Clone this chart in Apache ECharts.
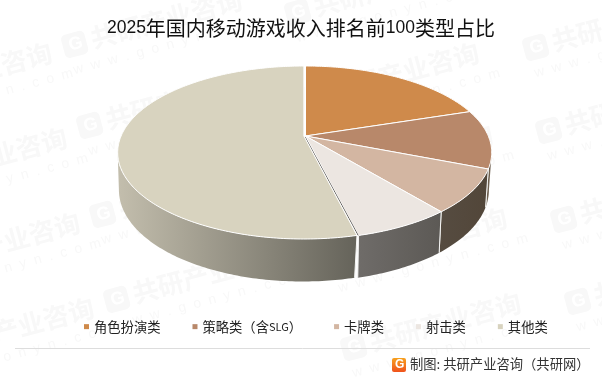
<!DOCTYPE html>
<html>
<head>
<meta charset="utf-8">
<style>
  html, body { margin: 0; padding: 0; background: #fff; }
  #main { width: 602px; height: 378px; }
</style>
<script src="https://cdn.jsdelivr.net/npm/echarts@6/dist/echarts.min.js"></script>
</head>
<body>
<div id="main"></div>
<script>
const categories = ['角色扮演类', '策略类（含SLG）', '卡牌类', '射击类', '其他类'];
const shares = [20.0, 11.0, 8.1, 7.1, 53.8];

const topColors = ['#cf8a4b', '#b8886a', '#d3b6a2', '#ece6e1', '#d8d3bf'];
const wallColors = [
    ['#7a5a38', '#7a5a38'],
    ['#6f6151', '#6f6151'],
    ['#564c41', '#524639'],
    ['#6f6c69', '#5c5955'],
    ['#c3bead', '#65635a']
];
const shiftX = [0, 0, 0, 0, -1.6];

// perspective ellipse of the pie top
const cx = 305.5, cy = 136, a = 182.8, b = 83.35, k = 0.1908;
const total = shares.reduce((s, v) => s + v, 0);
const visFrom = Math.acos(-k), visTo = 2 * Math.PI - visFrom;

function rim(t, dx) {
    const X = Math.sin(t), Y = -Math.cos(t), w = 1 - k * Y;
    return [cx + a * X / w + dx, cy + b * Y / w];
}
function rimLow(t, dx) {
    const p = rim(t, dx), Y = -Math.cos(t);
    return [cx + (p[0] - cx) * 0.985 + dx, p[1] + 36 + 6.5 * Y];
}
function arc(from, to, fn, dx) {
    const n = Math.max(2, Math.ceil((to - from) / 0.015));
    const pts = [];
    for (let i = 0; i <= n; i++) pts.push(fn(from + (to - from) * i / n, dx));
    return pts;
}

function renderSlice(params, api) {
    const i = params.seriesIndex;
    const before = shares.slice(0, i).reduce((s, v) => s + v, 0);
    const t0 = before / total * 2 * Math.PI;
    const t1 = t0 + api.value(0) / total * 2 * Math.PI;
    const dx = shiftX[i];
    const children = [];

    const from = Math.max(t0, visFrom), to = Math.min(t1, visTo);
    if (to > from) {
        const upper = arc(from, to, rim, dx);
        const lower = arc(from, to, rimLow, dx);
        const xs = upper.concat(lower).map(p => p[0]);
        children.push({
            type: 'polygon',
            shape: { points: upper.concat(lower.slice().reverse()) },
            style: {
                fill: {
                    type: 'linear', global: true,
                    x: Math.min.apply(null, xs), y: 0, x2: Math.max.apply(null, xs), y2: 0,
                    colorStops: [
                        { offset: 0, color: wallColors[i][0] },
                        { offset: 1, color: wallColors[i][1] }
                    ]
                }
            }
        });
        // white seams between neighbouring walls
        if (t0 > visFrom) children.push(seam(rim(from, dx), rimLow(from, dx)));
        if (t1 < visTo) children.push(seam(rim(to, dx), rimLow(to, dx)));
    }

    const apex = [cx + dx, cy];
    children.push({
        type: 'polygon',
        shape: { points: [apex].concat(arc(t0, t1, rim, dx)) },
        style: { fill: topColors[i], stroke: '#fff', lineWidth: 1, lineJoin: 'round' }
    });
    // inner wall showing where the big slice is pulled away
    if (i === 3) {
        const end = rim(t1, dx);
        children.push({
            type: 'line',
            shape: { x1: apex[0] - 0.4, y1: apex[1] + 1, x2: end[0] - 0.4, y2: end[1] },
            style: { stroke: '#66635f', lineWidth: 1 }
        });
    }
    return { type: 'group', children: children };
}
function seam(p, q) {
    return {
        type: 'line',
        shape: { x1: p[0], y1: p[1], x2: q[0], y2: q[1] },
        style: { stroke: '#f4f4f2', lineWidth: 1 }
    };
}

// faint site marks behind the chart
const markAnchors = [
    [65, 47], [80, 128], [93, 217], [107, 302],
    [288, 15], [302, 100], [316, 182], [330, 265], [344, 350],
    [526, 50], [539, 133], [554, 222], [568, 304],
    [-125, 100], [-110, 185], [-97, 270], [-83, 355]
];
const markColor = '#f8f8f8';
function watermark(p) {
    return {
        type: 'group', x: p[0], y: p[1], rotation: 15 * Math.PI / 180, silent: true, z: -1,
        children: [
            { type: 'rect', shape: { x: -2, y: -12, width: 24, height: 24, r: 5 }, style: { fill: markColor } },
            { type: 'text', style: { x: 4, y: -9, text: 'G', fontSize: 18, fontWeight: 'bold', fontFamily: 'Liberation Sans', fill: '#fff' } },
            { type: 'text', style: { x: 27, y: -14, text: '共研产业咨询', fontSize: 26, fontWeight: 'bold', fontFamily: 'Noto Sans CJK SC', fill: markColor } },
            { type: 'text', style: { x: 2, y: 18, text: 'w  w  w  .  g  o  n  y  n  .  c  o  m', fontSize: 14, fontFamily: 'Liberation Sans', fill: markColor } }
        ]
    };
}

const chart = echarts.init(document.getElementById('main'));
chart.setOption({
    animation: false,
    backgroundColor: '#fff',
    title: {
        left: 'center',
        top: 13,
        text: '{n|2025}{c|年国内移动游戏收入排名前}{n|100}{c|类型占比}',
        textStyle: {
            fontWeight: 'normal',
            rich: {
                n: { fontSize: 17.5, fontWeight: 'normal', fontFamily: 'Liberation Sans', color: '#111' },
                c: { fontSize: 20, fontWeight: 'normal', fontFamily: 'Noto Sans CJK SC', color: '#111' }
            }
        }
    },
    legend: {
        left: 84,
        top: 320,
        padding: 0,
        icon: 'rect',
        itemWidth: 5,
        itemHeight: 5,
        itemGap: 32,
        selectedMode: false,
        data: categories,
        formatter: name => name.replace('SLG', '{s|SLG}'),
        textStyle: {
            fontSize: 13.3, fontFamily: 'Noto Sans CJK SC', color: '#222',
            rich: { s: { fontSize: 11, fontFamily: 'Noto Sans CJK SC', color: '#222' } }
        }
    },
    series: categories.map((name, i) => ({
        type: 'custom',
        name: name,
        coordinateSystem: 'none',
        itemStyle: { color: topColors[i] },
        renderItem: renderSlice,
        data: [[shares[i]]]
    })),
    graphic: markAnchors.map(watermark).concat([
        { type: 'line', shape: { x1: 15, y1: 348.5, x2: 590, y2: 348.5 }, style: { stroke: '#ddd', lineWidth: 1 } },
        {
            type: 'rect', shape: { x: 392, y: 358, width: 14, height: 14, r: 2 },
            style: {
                fill: { type: 'linear', x: 0, y: 0, x2: 0, y2: 1, colorStops: [{ offset: 0, color: '#f7a11e' }, { offset: 1, color: '#f0521c' }] }
            }
        },
        { type: 'text', style: { x: 395, y: 359, text: 'G', fontSize: 12, fontWeight: 'bold', fontFamily: 'Liberation Sans', fill: '#fff' } },
        { type: 'text', style: { x: 410, y: 357, text: '制图: 共研产业咨询（共研网）', fontSize: 13.3, fontFamily: 'Noto Sans CJK SC', fill: '#333' } }
    ])
});
</script>
</body>
</html>
